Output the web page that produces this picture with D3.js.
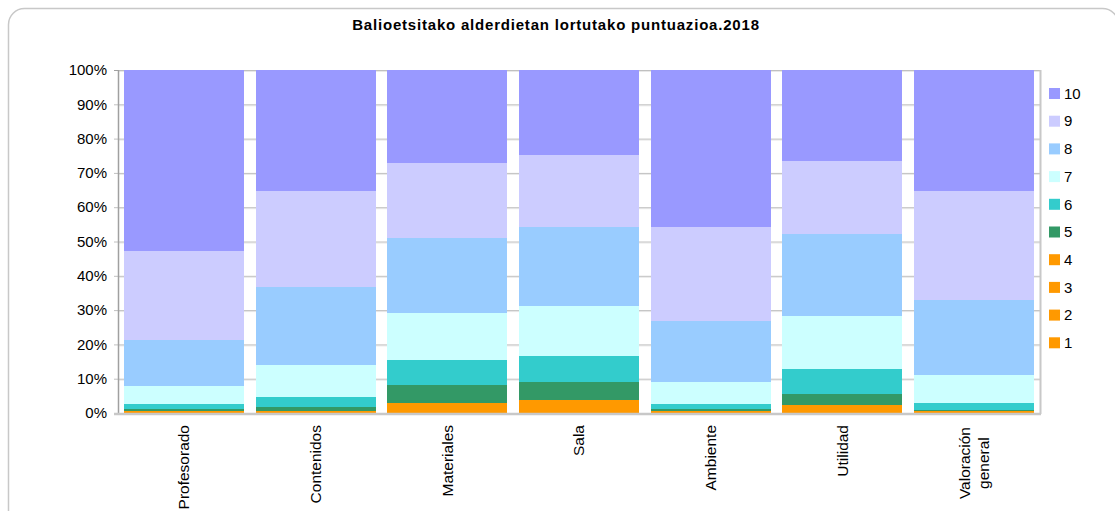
<!DOCTYPE html>
<html>
<head>
<meta charset="utf-8">
<script src="https://cdn.jsdelivr.net/npm/d3@7"></script>
<style>
  body { margin: 0; background: #fff; }
  svg text { font-family: "Liberation Sans", Arial, sans-serif; fill: #000; }
</style>
</head>
<body>
<div id="chart"></div>
<script>
// categories (x axis)
var categories = ["Profesorado", "Contenidos", "Materiales", "Sala", "Ambiente", "Utilidad", "Valoración general"];

// share of each score per category (%)
var s1  = [0.1, 0.1, 0.3, 0.4, 0.1, 0.3, 0.1];
var s2  = [0.1, 0.1, 0.5, 0.6, 0.1, 0.4, 0.1];
var s3  = [0.1, 0.2, 0.9, 1.1, 0.1, 0.7, 0.1];
var s4  = [0.2, 0.3, 1.3, 1.8, 0.2, 1.0, 0.2];
var s5  = [0.6, 1.1, 5.2, 5.2, 0.6, 3.2, 0.5];
var s6  = [1.6, 2.9, 7.3, 7.6, 1.6, 7.3, 2.0];
var s7  = [5.2, 9.4, 13.7, 14.6, 6.4, 15.4, 8.2];
var s8  = [13.5, 22.7, 21.9, 23.0, 17.8, 24.0, 21.8];
var s9  = [25.7, 28.0, 21.8, 21.0, 27.4, 21.2, 31.8];
var s10 = [52.8, 35.2, 27.1, 24.7, 45.7, 26.5, 35.2];

var seriesNames = ["1", "2", "3", "4", "5", "6", "7", "8", "9", "10"];
var seriesColors = ["#ff9900", "#ff9900", "#ff9900", "#ff9900", "#339966", "#33cccc", "#ccffff", "#99ccff", "#ccccff", "#9999ff"];
var yTicks = [0, 0.1, 0.2, 0.3, 0.4, 0.5, 0.6, 0.7, 0.8, 0.9, 1];
var title = "Balioetsitako alderdietan lortutako puntuazioa.2018";

var allSeries = [s1, s2, s3, s4, s5, s6, s7, s8, s9, s10];
var rows = categories.map(function(c, i) {
  var r = { cat: c };
  seriesNames.forEach(function(k, j) { r[k] = allSeries[j][i]; });
  return r;
});

var width = 1115, height = 511;
var plotLeft = 118, plotRight = 1040, plotTop = 70, plotBottom = 413;

var svg = d3.select("#chart").append("svg")
  .attr("width", width)
  .attr("height", height);

// outer frame
svg.append("rect")
  .attr("x", 8.5).attr("y", 8.5)
  .attr("width", 1110).attr("height", 520)
  .attr("rx", 16)
  .attr("fill", "#fff")
  .attr("stroke", "#c8c8c8")
  .attr("stroke-width", 1.5);

svg.append("text")
  .attr("x", 556).attr("y", 30)
  .attr("text-anchor", "middle")
  .style("font-size", "15px")
  .style("font-weight", "bold")
  .style("letter-spacing", "0.8px")
  .text(title);

var x = d3.scaleBand()
  .domain(categories)
  .range([plotLeft, plotRight])
  .paddingInner(0.089)
  .paddingOuter(0.0445);

var y = d3.scaleLinear()
  .domain([0, 1])
  .range([plotBottom, plotTop]);

// grid
var grid = svg.append("g");
grid.selectAll("line.sh")
  .data(yTicks.slice(1))
  .enter().append("line")
  .attr("x1", plotLeft).attr("x2", plotRight)
  .attr("y1", function(d) { return y(d) + 1.5; })
  .attr("y2", function(d) { return y(d) + 1.5; })
  .attr("stroke", "#e8e8e8");
grid.selectAll("line.g")
  .data(yTicks.slice(1))
  .enter().append("line")
  .attr("x1", plotLeft - 4).attr("x2", plotRight)
  .attr("y1", function(d) { return y(d) + 0.5; })
  .attr("y2", function(d) { return y(d) + 0.5; })
  .attr("stroke", "#c0c0c0");

var stack = d3.stack()
  .keys(seriesNames)
  .offset(d3.stackOffsetExpand);
var layers = stack(rows);

svg.append("g")
  .attr("shape-rendering", "crispEdges")
  .selectAll("g")
  .data(layers)
  .enter().append("g")
  .attr("fill", function(d, i) { return seriesColors[i]; })
  .selectAll("rect")
  .data(function(d) { return d; })
  .enter().append("rect")
  .attr("x", function(d) { return x(d.data.cat); })
  .attr("width", x.bandwidth())
  .attr("y", function(d) { return y(d[1]); })
  .attr("height", function(d) { return y(d[0]) - y(d[1]); });

// axes lines
svg.append("line")
  .attr("x1", plotLeft + 0.5).attr("x2", plotLeft + 0.5)
  .attr("y1", plotTop).attr("y2", plotBottom + 1)
  .attr("stroke", "#a0a0a0").attr("stroke-width", 1.5);
svg.append("line")
  .attr("x1", plotRight + 0.5).attr("x2", plotRight + 0.5)
  .attr("y1", plotTop).attr("y2", plotBottom + 1)
  .attr("stroke", "#c8c8c8").attr("stroke-width", 2);
svg.append("line")
  .attr("x1", plotLeft - 4).attr("x2", plotRight + 1)
  .attr("y1", plotBottom + 1).attr("y2", plotBottom + 1)
  .attr("stroke", "#c8c8c8").attr("stroke-width", 2.5);
svg.append("line")
  .attr("x1", plotLeft - 4).attr("x2", plotLeft)
  .attr("y1", plotTop + 0.5).attr("y2", plotTop + 0.5)
  .attr("stroke", "#a0a0a0");

// y tick labels
svg.append("g")
  .selectAll("text")
  .data(yTicks)
  .enter().append("text")
  .attr("x", 107)
  .attr("y", function(d) { return y(d); })
  .attr("dy", "0.35em")
  .attr("text-anchor", "end")
  .style("font-size", "15px")
  .text(d3.format(".0%"));

// x labels, rotated
var xl = svg.append("g")
  .selectAll("g")
  .data(categories)
  .enter().append("g")
  .attr("transform", function(d) { return "translate(" + (x(d) + x.bandwidth() / 2) + ",425) rotate(-90)"; });

xl.each(function(d) {
  var g = d3.select(this);
  var words = d.split(" ");
  if (words.length == 1) {
    g.append("text")
      .attr("text-anchor", "end")
      .attr("dy", "0.35em")
      .style("font-size", "15.5px")
      .text(d);
  } else {
    var t = g.selectAll("text").data(words).enter().append("text")
      .attr("text-anchor", "middle")
      .attr("y", function(w, i) { return (i - (words.length - 1) / 2) * 19; })
      .attr("dy", "0.35em")
      .style("font-size", "15.5px")
      .text(function(w) { return w; });
    var maxW = 0;
    t.each(function() { maxW = Math.max(maxW, this.getComputedTextLength()); });
    t.attr("x", -2 - maxW / 2);
  }
});

// legend, top-down from 10 to 1
var leg = svg.append("g")
  .selectAll("g")
  .data(seriesNames.slice().reverse())
  .enter().append("g")
  .attr("transform", function(d, i) { return "translate(1049," + (93.5 + i * 27.7) + ")"; });
leg.append("rect")
  .attr("x", 0).attr("y", -5.5)
  .attr("width", 11).attr("height", 11)
  .attr("fill", function(d) { return seriesColors[seriesNames.indexOf(d)]; });
leg.append("text")
  .attr("x", 15)
  .attr("dy", "0.35em")
  .style("font-size", "15px")
  .text(function(d) { return d; });
</script>
</body>
</html>
